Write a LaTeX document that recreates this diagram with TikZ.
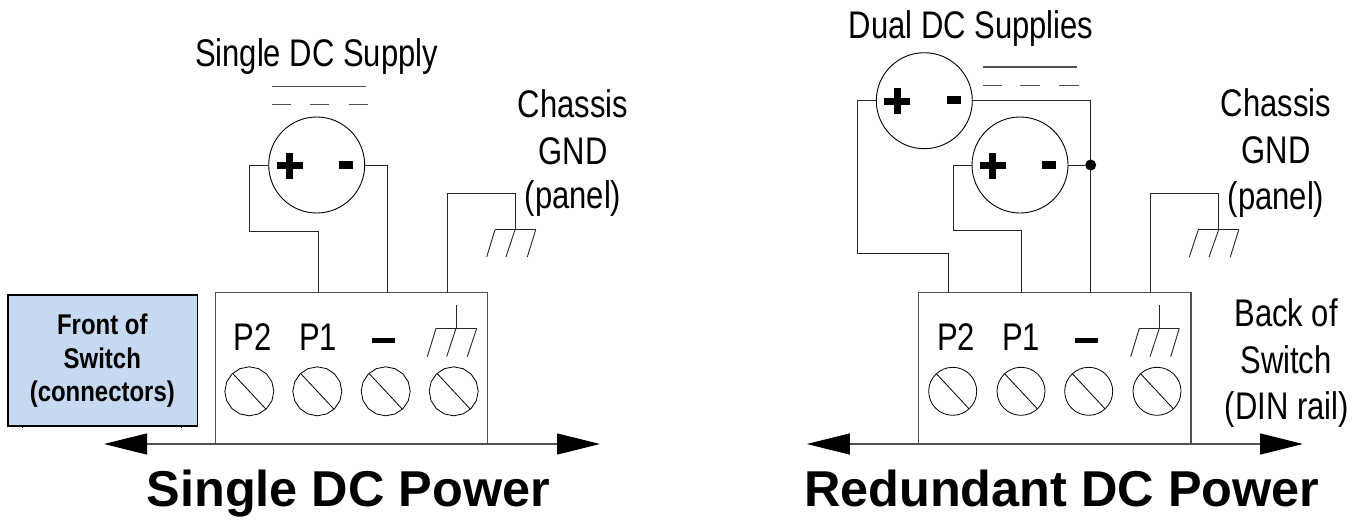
\documentclass[tikz,border=0pt]{standalone}
\usepackage{fontspec}
\setmainfont{Liberation Sans}
\newfontfamily\narrowfont[FakeStretch=0.805]{Liberation Sans}
\newfontfamily\frontfont[FakeStretch=0.84]{Liberation Sans}
\usetikzlibrary{arrows.meta,shapes.geometric}
\definecolor{wire}{HTML}{505050}
\definecolor{panelblue}{HTML}{C6D9F1}
\tikzset{
  x=1pt,y=-1pt,
  wireline/.style={draw=wire,line width=1.1pt},
  thin wire/.style={draw=black!85,line width=0.9pt},
  supply/.style={circle,draw=black,line width=0.9pt,minimum size=96pt,inner sep=0pt,outer sep=0pt},
  screw/.style={circle,draw=black,line width=0.8pt,minimum size=48pt,inner sep=0pt,outer sep=0pt},
  polyscrew/.style={regular polygon,regular polygon sides=16,shape border rotate=11.25,draw=black,line width=0.8pt,minimum size=49pt,inner sep=0pt,outer sep=0pt},
  label/.style={anchor=base,inner sep=0pt,font=\narrowfont\fontsize{38.5}{38.5}\selectfont},
  title/.style={anchor=base,inner sep=0pt,font=\bfseries\fontsize{50.4}{50.4}\selectfont},
  fronttext/.style={anchor=base,inner sep=0pt,font=\frontfont\bfseries\fontsize{28.5}{28.5}\selectfont},
  rail/.style={draw=wire,line width=1.2pt,{Triangle[length=43pt,width=21pt,color=black,fill=black]}-{Triangle[length=43pt,width=21pt,color=black,fill=black]}},
}
\newcommand{\plusmark}[2]{\fill[black] (#1-13,#2-3.5) rectangle (#1+13,#2+3.5);\fill[black] (#1-3.5,#2-13) rectangle (#1+3.5,#2+13);}
\newcommand{\minusmark}[2]{\fill[black] (#1-7,#2-4) rectangle (#1+7,#2+4);}
\begin{document}
\begin{tikzpicture}
\useasboundingbox (0,0) rectangle (1364,519);
\fill[white] (0,0) rectangle (1364,519);

% ---------- left: single supply ----------
\draw[wireline] (215.3,292.7) rectangle (487.7,444);
\coordinate (lrailA) at (104,444);
\coordinate (lrailB) at (600,444);
\draw[rail] (lrailA) -- (lrailB);

\draw[black,line width=0.8pt] (22.3,424) -- (22.3,427.5) (181,424) -- (181,427.5);
\node[rectangle,draw=black,line width=1.6pt,fill=panelblue,minimum width=189.7pt,minimum height=130.7pt,inner sep=0pt,anchor=north west] (front) at (7,294.3) {};
\node[fronttext] (frontA) at (102.3,334.3) {Front of};
\node[fronttext] (frontB) at (102.3,368.3) {Switch};
\node[fronttext] (frontC) at (102.3,401.7) {(connectors)};

\foreach \n/\x in {la/249.3,lb/317.3,lc/385.7,ld/453.7}{
  \node[polyscrew] (\n) at (\x,391.3) {};
  \draw[black,line width=0.8pt] (\n.133) -- (\n.-47);
}
\node[label] (lp2) at (252.5,350) {P2};
\node[label] (lp1) at (318,350) {P1};
\fill[black] (371.7,337.7) rectangle (395,342.7);
\draw[thin wire] (456,305) -- (456,328.3);
\draw[thin wire] (436,328.3) -- (476.7,328.3);
\draw[thin wire] (436,328.3) -- (427.3,356.7) (456,328.3) -- (446.7,356.7) (476.7,328.3) -- (467.3,356.7);

\node[label] (single) at (316.5,66.5) {Single DC Supply};
\draw[wireline] (272,86.7) -- (366,86.7);
\draw[wireline] (272,104.3) -- (291,104.3) (309.5,104.3) -- (328.5,104.3) (348.5,104.3) -- (367.5,104.3);
\node[supply] (ls) at (316.7,165) {};
\plusmark{289.7}{165.7}
\minusmark{346}{164.7}
\coordinate (lpa) at (249.3,165);
\coordinate (lpb) at (249.3,231);
\coordinate (lpc) at (318.3,231);
\coordinate (lpd) at (318.3,292.7);
\draw[thin wire] (ls.west) -- (lpa) -- (lpb) -- (lpc) -- (lpd);
\coordinate (lma) at (387.7,165);
\coordinate (lmb) at (387.7,292.7);
\draw[thin wire] (ls.east) -- (lma) -- (lmb);
\coordinate (lga) at (447,292.7);
\coordinate (lgb) at (447,193);
\coordinate (lgc) at (515,193);
\coordinate (lgd) at (515,229.7);
\draw[thin wire] (lga) -- (lgb) -- (lgc) -- (lgd);
\draw[thin wire] (495,229.7) -- (535.7,229.7);
\draw[thin wire] (495,229.7) -- (486.7,257) (515,229.7) -- (506,257) (535.7,229.7) -- (527.3,257);
\node[label] (lch1) at (573,117.5) {Chassis};
\node[label] (lch2) at (573,164) {GND};
\node[label] (lch3) at (573,208.5) {(panel)};
\node[title] (ltitle) at (348.3,506.7) {Single DC Power};

% ---------- right: dual supplies ----------
\draw[wireline] (918.7,292.7) rectangle (1191,444);
\coordinate (rrailA) at (806.8,444);
\coordinate (rrailB) at (1303,444);
\draw[rail] (rrailA) -- (rrailB);
\foreach \n/\x in {ra/952.7,rb/1021,rc/1088.7,rd/1157}{
  \node[screw] (\n) at (\x,391.3) {};
  \draw[black,line width=0.8pt] (\n.133) -- (\n.-47);
}
\node[label] (rp2) at (956,350) {P2};
\node[label] (rp1) at (1021,350) {P1};
\fill[black] (1075,337.7) rectangle (1098.3,342.7);
\draw[thin wire] (1159.3,305) -- (1159.3,328.3);
\draw[thin wire] (1139.3,328.3) -- (1179.3,328.3);
\draw[thin wire] (1139.3,328.3) -- (1130.7,356.7) (1159.3,328.3) -- (1150,356.7) (1179.3,328.3) -- (1170.7,356.7);

\node[label] (dual) at (971,39) {Dual DC Supplies};
\draw[wireline] (982.7,67) -- (1077.3,67);
\draw[wireline] (982.7,85.3) -- (1002.3,85.3) (1020.3,85.3) -- (1040,85.3) (1059.3,85.3) -- (1079,85.3);
\node[supply] (ra1) at (924.3,100.7) {};
\node[supply] (rb1) at (1020,165) {};
\plusmark{897.3}{101}
\minusmark{954}{99.7}
\plusmark{992.7}{165.7}
\minusmark{1049}{165}
\coordinate (rpa) at (857.3,100.7);
\coordinate (rpb) at (857.3,253.7);
\coordinate (rpc) at (948.3,253.7);
\coordinate (rpd) at (948.3,292.7);
\draw[thin wire] (ra1.west) -- (rpa) -- (rpb) -- (rpc) -- (rpd);
\coordinate (rma) at (1090.7,100.7);
\coordinate (rmb) at (1090.7,292.7);
\draw[thin wire] (ra1.east) -- (rma) -- (rmb);
\coordinate (rqa) at (953,165);
\coordinate (rqb) at (953,230.7);
\coordinate (rqc) at (1021,230.7);
\coordinate (rqd) at (1021,292.7);
\draw[thin wire] (rb1.west) -- (rqa) -- (rqb) -- (rqc) -- (rqd);
\node[circle,fill=black,minimum size=11pt,inner sep=0pt] (rdot) at (1090.7,165) {};
\draw[thin wire] (rb1.east) -- (rdot);
\coordinate (rga) at (1150.3,292.7);
\coordinate (rgb) at (1150.3,193.7);
\coordinate (rgc) at (1218.7,193.7);
\coordinate (rgd) at (1218.7,229.7);
\draw[thin wire] (rga) -- (rgb) -- (rgc) -- (rgd);
\draw[thin wire] (1198.3,229.7) -- (1238.7,229.7);
\draw[thin wire] (1198.3,229.7) -- (1189.3,257) (1218.7,229.7) -- (1209,257) (1238.7,229.7) -- (1230.3,257);
\node[label] (rch1) at (1276,116.5) {Chassis};
\node[label] (rch2) at (1276,163.3) {GND};
\node[label] (rch3) at (1276,209.5) {(panel)};
\node[label] (back1) at (1286,326.5) {Back of};
\node[label] (back2) at (1286,373.3) {Switch};
\node[label] (back3) at (1286.7,419.3) {(DIN rail)};
\node[title] (rtitle) at (1061.8,506.7) {Redundant DC Power};
\end{tikzpicture}
\end{document}
